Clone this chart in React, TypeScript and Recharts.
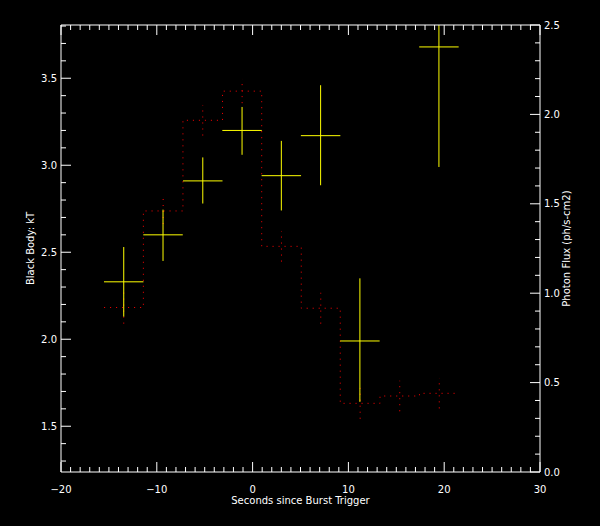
import React from "react";
import {
  ComposedChart,
  Line,
  Scatter,
  ErrorBar,
  XAxis,
  YAxis,
} from "recharts";

// kT fits: bin centre (s), kT, half bin width, kT error below / above
const KT_TIME = [-13.45, -9.35, -5.2, -1.1, 3.0, 7.1, 11.2, 19.45];
const KT_VALUE = [2.33, 2.6, 2.91, 3.2, 2.94, 3.17, 1.99, 3.68];
const KT_XERR = [2.06, 2.06, 2.06, 2.06, 2.06, 2.06, 2.06, 2.06];
const KT_YERR_LO = [0.2, 0.15, 0.13, 0.14, 0.2, 0.285, 0.35, 0.69];
// last one runs off the top of the frame, only the visible part is kept
const KT_YERR_HI = [0.2, 0.145, 0.135, 0.135, 0.2, 0.29, 0.36, 0.126];

// photon flux histogram: bin edges, flux per bin, flux error
const BIN_EDGES = [-15.5, -11.4, -7.27, -3.14, 0.95, 5.08, 9.15, 13.3, 17.42, 21.55];
const FLUX = [0.92, 1.46, 1.967, 2.13, 1.262, 0.916, 0.384, 0.425, 0.44];
const FLUX_ERR = [0.09, 0.073, 0.085, 0.067, 0.085, 0.086, 0.086, 0.085, 0.084];

const X_TICKS = [
  -20, -19, -18, -17, -16, -15, -14, -13, -12, -11, -10, -9, -8, -7, -6, -5, -4,
  -3, -2, -1, 0, 1, 2, 3, 4, 5, 6, 7, 8, 9, 10, 11, 12, 13, 14, 15, 16, 17, 18,
  19, 20, 21, 22, 23, 24, 25, 26, 27, 28, 29, 30,
];
const KT_TICKS = [
  1.3, 1.4, 1.5, 1.6, 1.7, 1.8, 1.9, 2.0, 2.1, 2.2, 2.3, 2.4, 2.5, 2.6, 2.7,
  2.8, 2.9, 3.0, 3.1, 3.2, 3.3, 3.4, 3.5, 3.6, 3.7, 3.8,
];
const FLUX_TICKS = [
  0.0, 0.1, 0.2, 0.3, 0.4, 0.5, 0.6, 0.7, 0.8, 0.9, 1.0, 1.1, 1.2, 1.3, 1.4,
  1.5, 1.6, 1.7, 1.8, 1.9, 2.0, 2.1, 2.2, 2.3, 2.4, 2.5,
];

const ktData = KT_TIME.map((t, i) => ({
  t,
  kt: KT_VALUE[i],
  xerr: KT_XERR[i],
  yerr: [KT_YERR_LO[i], KT_YERR_HI[i]],
}));

const stepData = BIN_EDGES.map((t, i) => ({
  t,
  flux: FLUX[Math.min(i, FLUX.length - 1)],
}));

const fluxBars = FLUX.map((f, i) => ({
  t: (BIN_EDGES[i] + BIN_EDGES[i + 1]) / 2,
  flux: f,
  err: FLUX_ERR[i],
}));

const FONT = "DejaVu Sans";
const isHalf = (v: number) => Math.abs(v * 2 - Math.round(v * 2)) < 1e-6;

function BottomTick({ x, y, payload }: any) {
  const v = payload.value;
  const major = v % 10 === 0;
  return (
    <g>
      <line x1={x} x2={x} y1={y} y2={y - (major ? 10 : 5)} stroke="#fff" />
      {major && (
        <text x={x} y={y + 20.5} textAnchor="middle" fill="#fff" fontSize={10} fontFamily={FONT}>
          {v < 0 ? `\u2212${Math.abs(v)}` : v}
        </text>
      )}
    </g>
  );
}

function TopTick({ x, y, payload }: any) {
  const major = payload.value % 10 === 0;
  return <line x1={x} x2={x} y1={y} y2={y + (major ? 10 : 5)} stroke="#fff" />;
}

function LeftTick({ x, y, payload }: any) {
  const v = payload.value;
  const major = isHalf(v);
  return (
    <g>
      <line x1={x} x2={x + (major ? 10 : 5)} y1={y} y2={y} stroke="#fff" />
      {major && (
        <text x={x - 4} y={y} dy="0.36em" textAnchor="end" fill="#fff" fontSize={10} fontFamily={FONT}>
          {v.toFixed(1)}
        </text>
      )}
    </g>
  );
}

function RightTick({ x, y, payload }: any) {
  const v = payload.value;
  const major = isHalf(v);
  return (
    <g>
      <line x1={x} x2={x - (major ? 10 : 5)} y1={y} y2={y} stroke="#fff" />
      {major && (
        <text x={x + 4} y={y} dy="0.36em" textAnchor="start" fill="#fff" fontSize={10} fontFamily={FONT}>
          {v.toFixed(1)}
        </text>
      )}
    </g>
  );
}

const noDot = () => <g />;

export default function App() {
  return (
    <div
      style={{
        position: "absolute",
        left: 0,
        top: 0,
        width: 600,
        height: 526,
        background: "#000",
      }}
    >
      <ComposedChart
        width={600}
        height={526}
        margin={{ top: 15, right: 20, bottom: 14, left: 21 }}
      >
        <XAxis
          dataKey="t"
          type="number"
          domain={[-20, 30]}
          ticks={X_TICKS}
          interval={0}
          allowDataOverflow
          height={40}
          tickSize={0}
          tickMargin={0}
          tickLine={false}
          axisLine={{ stroke: "#fff" }}
          tick={<BottomTick />}
          label={{
            value: "Seconds since Burst Trigger",
            position: "insideBottom",
            offset: 8,
            fill: "#fff",
            fontSize: 10,
            fontFamily: FONT,
          }}
        />
        <XAxis
          xAxisId="top"
          orientation="top"
          dataKey="t"
          type="number"
          domain={[-20, 30]}
          ticks={X_TICKS}
          interval={0}
          allowDataOverflow
          height={10}
          tickSize={0}
          tickMargin={0}
          tickLine={false}
          axisLine={{ stroke: "#fff" }}
          tick={<TopTick />}
        />
        <YAxis
          yAxisId="kt"
          dataKey="kt"
          type="number"
          domain={[1.237, 3.806]}
          ticks={KT_TICKS}
          interval={0}
          allowDataOverflow
          width={40}
          tickSize={0}
          tickMargin={0}
          tickLine={false}
          axisLine={{ stroke: "#fff" }}
          tick={<LeftTick />}
          label={{
            value: "Black Body: kT",
            position: "insideLeft",
            angle: -90,
            offset: 9,
            fill: "#fff",
            fontSize: 10,
            fontFamily: FONT,
            style: { textAnchor: "middle" },
          }}
        />
        <YAxis
          yAxisId="flux"
          orientation="right"
          dataKey="flux"
          type="number"
          domain={[0, 2.5]}
          ticks={FLUX_TICKS}
          interval={0}
          allowDataOverflow
          width={40}
          tickSize={0}
          tickMargin={0}
          tickLine={false}
          axisLine={{ stroke: "#fff" }}
          tick={<RightTick />}
          label={{
            value: "Photon Flux (ph/s-cm2)",
            position: "insideRight",
            angle: -90,
            offset: 13.5,
            fill: "#fff",
            fontSize: 10,
            fontFamily: FONT,
            style: { textAnchor: "middle" },
          }}
        />
        <Line
          yAxisId="flux"
          data={stepData}
          dataKey="flux"
          type="stepAfter"
          stroke="#ff0000"
          strokeWidth={1}
          strokeDasharray="1 5"
          dot={false}
          activeDot={false}
          isAnimationActive={false}
        />
        <Scatter
          yAxisId="flux"
          data={fluxBars}
          dataKey="flux"
          shape={noDot}
          isAnimationActive={false}
        >
          <ErrorBar
            dataKey="err"
            direction="y"
            width={0}
            stroke="#ff0000"
            strokeWidth={1}
            strokeDasharray="1 5"
            isAnimationActive={false}
          />
        </Scatter>
        <Scatter
          yAxisId="kt"
          data={ktData}
          dataKey="kt"
          shape={noDot}
          isAnimationActive={false}
        >
          <ErrorBar
            dataKey="xerr"
            direction="x"
            width={0}
            stroke="#ffff00"
            strokeWidth={1}
            isAnimationActive={false}
          />
          <ErrorBar
            dataKey="yerr"
            direction="y"
            width={0}
            stroke="#ffff00"
            strokeWidth={1}
            isAnimationActive={false}
          />
        </Scatter>
      </ComposedChart>
    </div>
  );
}
